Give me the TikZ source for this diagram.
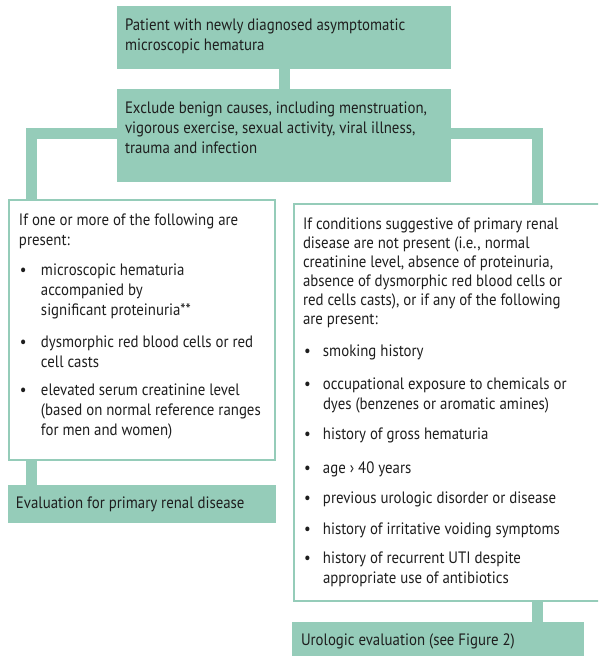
\documentclass[tikz,border=0pt]{standalone}
\usepackage{fontspec}
\setmainfont{PT Sans}[FakeStretch=0.9]
\usetikzlibrary{backgrounds}

\definecolor{flowteal}{RGB}{149,204,185}
\definecolor{flowink}{RGB}{30,30,30}

% box text: fixed-size top-aligned paragraph; #1 height, #2 width, #3 first baseline offset
\newcommand\boxpar[4]{\parbox[t][#1][t]{#2}{\raggedright\fontsize{16.5}{20}\selectfont\rule{0pt}{#3}#4}}
\newcommand\bul{\makebox[22pt][l]{\hspace{1pt}\textbullet}}
\newcommand\ind{\hspace*{22pt}}
\newcommand\rbul{\makebox[20pt][l]{\hspace{1pt}\textbullet}}
\newcommand\rind{\hspace*{20pt}}

\tikzset{
  tealbox/.style={fill=flowteal, draw=none, anchor=north west, inner ysep=0pt,
    outer sep=0pt, text=flowink},
  whitebox/.style={fill=white, draw=flowteal, line width=2.5pt, anchor=north west,
    inner ysep=0pt, outer sep=0pt, text=flowink},
  conn/.style={draw=flowteal, line width=11pt, line join=miter},
}

\begin{document}
\begin{tikzpicture}[x=1pt, y=-1pt]
\useasboundingbox (0,0) rectangle (598,656);
\clip (0,0) rectangle (598,656);

\node[tealbox, inner xsep=8pt] (start) at (117,6)
  {\boxpar{63pt}{318pt}{24pt}{Patient with newly diagnosed asymptomatic\\
   microscopic hematura}};

\node[tealbox, inner xsep=8pt] (exclude) at (117,89)
  {\boxpar{93pt}{318pt}{24pt}{Exclude benign causes, including menstruation,\\
   vigorous exercise, sexual activity, viral illness,\\
   trauma and infection}};

\node[whitebox, inner xsep=10pt] (renal) at (9,200)
  {\boxpar{260pt}{246pt}{25pt}{If one or more of the following are\\
   present:\\[10pt]
   \bul microscopic hematuria\\
   \ind accompanied by\\
   \ind significant proteinuria**\\[12pt]
   \bul dysmorphic red blood cells or red\\
   \ind cell casts\\[8pt]
   \bul elevated serum creatinine level\\
   \ind (based on normal reference ranges\\
   \ind for men and women)}};

\node[tealbox, inner xsep=8pt] (renaleval) at (8,485)
  {\boxpar{38pt}{252pt}{23pt}{Evaluation for primary renal disease}};

\node[whitebox, inner xsep=9pt] (uro) at (294,204)
  {\boxpar{397pt}{302pt}{25pt}{{\fontsize{16.5}{19}\selectfont
   If conditions suggestive of primary renal\\
   disease are not present (i.e., normal\\
   creatinine level, absence of proteinuria,\\
   absence of dysmorphic red blood cells or\\
   red cells casts), or if any of the following\\
   are present:\par}
   \vspace{12pt}
   \rbul smoking history\\[13pt]
   \rbul occupational exposure to chemicals or\\
   \rind dyes (benzenes or aromatic amines)\\[10pt]
   \rbul history of gross hematuria\\[14pt]
   \rbul age › 40 years\\[10pt]
   \rbul previous urologic disorder or disease\\[11pt]
   \rbul history of irritative voiding symptoms\\[9pt]
   \rbul history of recurrent UTI despite\\
   \rind appropriate use of antibiotics}};

\node[tealbox, inner xsep=9pt] (uroeval) at (292,622)
  {\boxpar{43pt}{274pt}{23pt}{Urologic evaluation (see Figure 2)}};

\begin{pgfonlayer}{background}
  \draw[conn] ([xshift=0.5pt]start.south) -- ([xshift=0.5pt]start.south |- exclude.north);
  \draw[conn] ([yshift=2pt]exclude.west) -| ([xshift=22.5pt]renal.north west);
  \draw[conn] ([yshift=2pt]exclude.east) -| ([xshift=243.5pt]uro.north west);
  \draw[conn] ([xshift=22.5pt]renal.south west) -- ([xshift=23.5pt]renaleval.north west);
  \draw[conn] ([xshift=243.5pt]uro.south west) -- ([xshift=245.5pt]uroeval.north west);
\end{pgfonlayer}
\end{tikzpicture}
\end{document}
